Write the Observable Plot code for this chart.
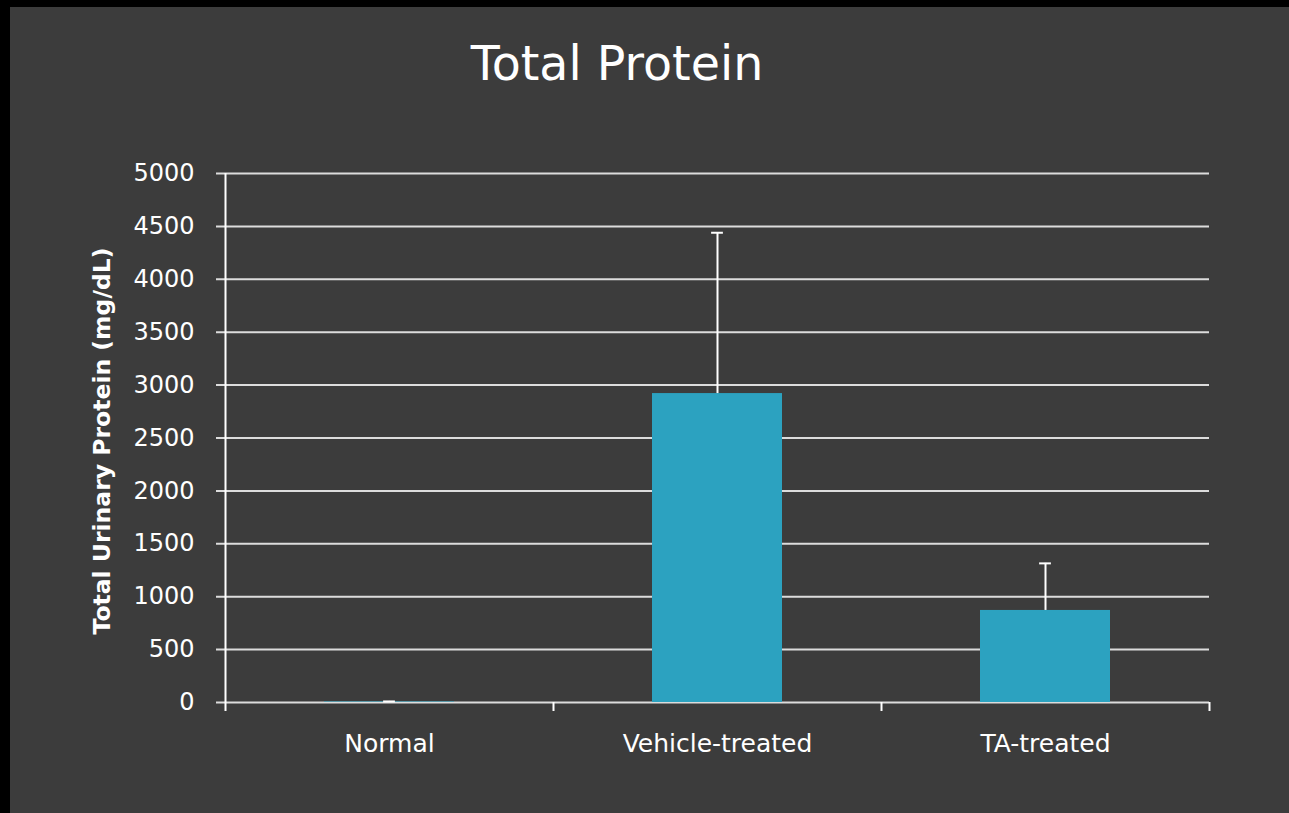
<!DOCTYPE html>
<html>
<head>
<meta charset="utf-8">
<script src="https://cdn.jsdelivr.net/npm/d3@7"></script>
<script src="https://cdn.jsdelivr.net/npm/@observablehq/plot@0.6"></script>
<style>
  html, body { margin: 0; padding: 0; background: #000; }
  #frame { position: absolute; left: 10px; top: 7px; width: 1279px; height: 806px; background: #3c3c3c; overflow: hidden; }
  #title { margin: 0; padding-top: 34px; height: 46px; line-height: 46px; width: 1214px; text-align: center;
           font-family: "DejaVu Sans", sans-serif; font-size: 47.5px; font-weight: normal; color: #ffffff; }
  svg { display: block; }
</style>
</head>
<body>
<div id="frame">
  <div id="title">Total Protein</div>
  <div id="chart"></div>
</div>
<script>
const categories = ["Normal", "Vehicle-treated", "TA-treated"];
const values = [5, 2920, 870];
const errors = [5, 1520, 445];
const yTicks = [0, 500, 1000, 1500, 2000, 2500, 3000, 3500, 4000, 4500, 5000];
const yLabel = "Total Urinary Protein (mg/dL)";

const data = categories.map((c, i) => ({cat: c, value: values[i], hi: values[i] + errors[i]}));

const W = 1279, H = 726, mL = 215, mR = 80, mT = 86, mB = 111;
const pInner = 0.603, pOuter = pInner / 2;
const step = (W - mL - mR) / categories.length;
const bw = step * (1 - pInner);
const capInset = (bw - 12) / 2;

const chart = Plot.plot({
  width: W, height: H,
  marginLeft: mL, marginRight: mR, marginTop: mT, marginBottom: mB,
  style: {background: "transparent", color: "white", fontFamily: "DejaVu Sans, sans-serif", overflow: "visible"},
  x: {domain: categories, paddingInner: pInner, paddingOuter: pOuter, axis: null},
  y: {domain: [0, 5000], axis: null},
  marks: [
    Plot.ruleY(yTicks, {stroke: "#dcdcdc", strokeWidth: 2, insetLeft: -9}),
    Plot.barY(data, {x: "cat", y: "value", fill: "#2ca2c0"}),
    Plot.ruleX(data, {x: "cat", y1: "value", y2: "hi", stroke: "white", strokeWidth: 2}),
    Plot.tickY(data, {x: "cat", y: "hi", stroke: "white", strokeWidth: 2, insetLeft: capInset, insetRight: capInset}),
    Plot.ruleX([categories[0]], {x: d => d, dx: -step / 2, y1: 5000, y2: 0, insetBottom: -9, stroke: "white", strokeWidth: 2}),
    Plot.ruleX(categories, {x: d => d, dx: step / 2, y1: 0, y2: 0, insetBottom: -9, stroke: "white", strokeWidth: 2}),
    Plot.axisY(yTicks, {tickSize: 0, tickPadding: 31, fontSize: 24, fill: "white", label: null, tickFormat: d => String(d)}),
    Plot.axisX({tickSize: 0, tickPadding: 32, fontSize: 25, fill: "white", label: null}),
    Plot.text([yLabel], {frameAnchor: "left", rotate: -90, dx: -123, dy: 3, text: d => d, fontSize: 23.5, fontWeight: "bold", fill: "white", textAnchor: "middle", lineAnchor: "middle"})
  ]
});
document.getElementById("chart").appendChild(chart);
</script>
</body>
</html>
